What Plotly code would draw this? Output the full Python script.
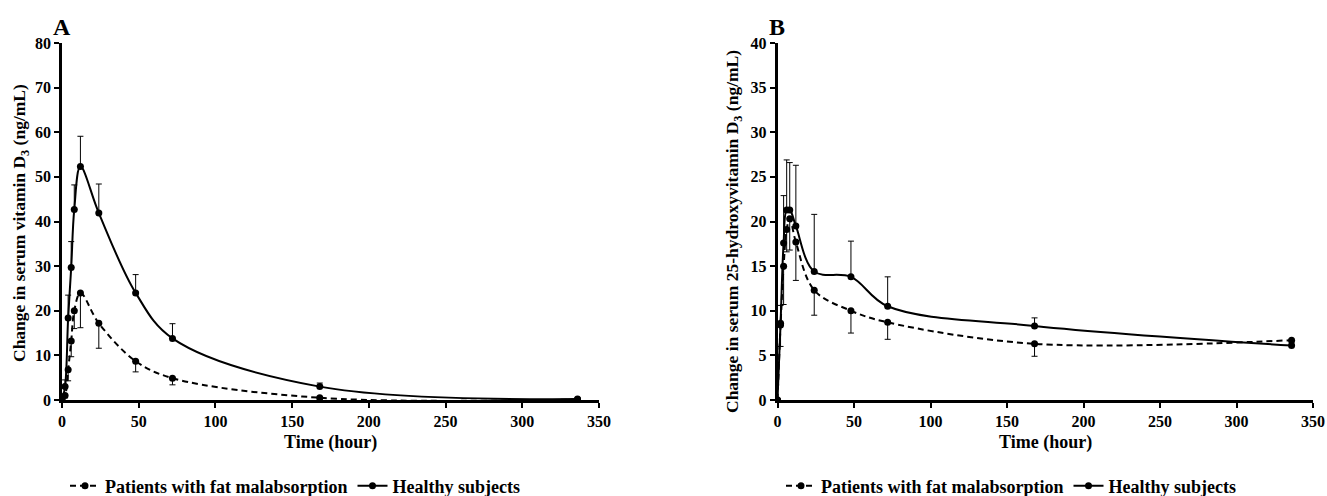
import plotly.graph_objects as go

times = [0, 2, 4, 6, 8, 12, 24, 48, 72, 168, 336]

a_patients = [0, 1.0, 6.8, 13.2, 20.0, 24.0, 17.2, 8.7, 4.9, 0.5, 0.1]
a_patients_err = [0, 0.5, 2.5, 3.5, 4.0, 7.8, 5.6, 2.4, 1.5, 0.3, 0.1]
a_healthy = [0, 3.0, 18.4, 29.7, 42.7, 52.3, 41.9, 24.0, 13.8, 3.0, 0.2]
a_healthy_err = [0, 1.5, 5.1, 5.8, 5.5, 6.8, 6.5, 4.1, 3.3, 0.8, 0.1]

b_patients = [0, 8.4, 15.0, 19.1, 20.3, 17.7, 12.3, 10.0, 8.7, 6.3, 6.7]
b_patients_err = [0, 2.4, 4.3, 2.5, 3.5, 4.3, 2.8, 2.5, 1.9, 1.4, 0.3]
b_healthy = [0, 8.6, 17.6, 21.3, 21.3, 19.5, 14.4, 13.8, 10.5, 8.3, 6.1]
b_healthy_err = [0, 2.0, 5.3, 5.6, 5.3, 6.8, 6.4, 4.0, 3.3, 0.9, 0.5]

x_ticks = [0, 50, 100, 150, 200, 250, 300, 350]
a_yticks = [0, 10, 20, 30, 40, 50, 60, 70, 80]
b_yticks = [0, 5, 10, 15, 20, 25, 30, 35, 40]

name_p = "Patients with fat malabsorption"
name_h = "Healthy subjects"

FONT = "Liberation Serif, Times New Roman, serif"
W, H = 1327, 496
ML, MR, MT, MB = 62, 14, 43, 96
PW = W - ML - MR
PH = H - MT - MB


def px_x(px):
    return (px - ML) / PW


def px_y(py):
    return (H - MB - py) / PH


fig = go.Figure()


def add_pair(xa, ya, pat, pat_err, hea, hea_err, legend):
    fig.add_trace(go.Scatter(
        x=times, y=pat, mode="lines+markers", name=name_p,
        xaxis=xa, yaxis=ya, legend=legend,
        line=dict(color="black", width=2, dash="6px,4px", shape="spline", smoothing=1),
        marker=dict(color="black", size=7),
        error_y=dict(type="data", symmetric=False, array=[0] * len(pat_err),
                     arrayminus=pat_err, color="black", thickness=1, width=3),
    ))
    fig.add_trace(go.Scatter(
        x=times, y=hea, mode="lines+markers", name=name_h,
        xaxis=xa, yaxis=ya, legend=legend,
        line=dict(color="black", width=2, shape="spline", smoothing=1),
        marker=dict(color="black", size=7),
        error_y=dict(type="data", symmetric=False, array=hea_err,
                     arrayminus=[0] * len(hea_err), color="black", thickness=1, width=3),
    ))


add_pair("x", "y", a_patients, a_patients_err, a_healthy, a_healthy_err, "legend")
add_pair("x2", "y2", b_patients, b_patients_err, b_healthy, b_healthy_err, "legend2")

tickfont = dict(family=FONT, size=16, color="black", weight="bold")
axis_common = dict(showline=True, linecolor="black", linewidth=2.5, ticks="outside",
                   ticklen=5, tickwidth=2, tickcolor="black", showgrid=False,
                   zeroline=False, tickfont=tickfont, fixedrange=True, automargin=False)

dA = [0, px_x(599)]
dB = [px_x(777.5), 1]

legend_common = dict(orientation="h", xref="paper", yref="paper", y=px_y(486),
                     yanchor="middle", bgcolor="rgba(0,0,0,0)",
                     font=dict(family=FONT, size=18, color="black", weight="bold"),
                     itemwidth=30, tracegroupgap=0)

fig.update_layout(
    width=W, height=H,
    margin=dict(l=ML, r=MR, t=MT, b=MB, autoexpand=False),
    font=dict(family=FONT, color="black"),
    paper_bgcolor="white", plot_bgcolor="white",
    showlegend=True,
    hovermode=False,
    xaxis=dict(domain=dA, range=[0, 350], tickvals=x_ticks, anchor="y", **axis_common),
    yaxis=dict(domain=[0, 1], range=[0, 80], tickvals=a_yticks, anchor="x", **axis_common),
    xaxis2=dict(domain=dB, range=[0, 350], tickvals=x_ticks, anchor="y2", **axis_common),
    yaxis2=dict(domain=[0, 1], range=[0, 40], tickvals=b_yticks, anchor="x2", **axis_common),
    legend=dict(x=px_x(65), xanchor="left", **legend_common),
    legend2=dict(x=px_x(781), xanchor="left", **legend_common),
)

title_font = dict(family=FONT, size=18, color="black", weight="bold")
ytitle_font = dict(family=FONT, size=17.5, color="black", weight="bold")
letter_font = dict(family=FONT, size=24, color="black", weight="bold")
ann_common = dict(xref="paper", yref="paper", showarrow=False,
                  xanchor="center", yanchor="middle")
annotations = [
    dict(text="A", x=px_x(61.5), y=px_y(27), font=letter_font, **ann_common),
    dict(text="B", x=px_x(777), y=px_y(27), font=letter_font, **ann_common),
    dict(text="Change in serum vitamin D<sub>3</sub> (ng/mL)", x=px_x(20),
         y=px_y(223), textangle=-90, font=ytitle_font, **ann_common),
    dict(text="Change in serum 25-hydroxyvitamin D<sub>3</sub> (ng/mL)", x=px_x(733),
         y=px_y(232), textangle=-90, font=ytitle_font, **ann_common),
    dict(text="Time (hour)", x=px_x((62.5 + 599) / 2), y=px_y(442),
         font=title_font, **ann_common),
    dict(text="Time (hour)", x=px_x((777.5 + 1313) / 2), y=px_y(442),
         font=title_font, **ann_common),
]
fig.update_layout(annotations=annotations)

fig.write_html("out.html", config={"displayModeBar": False},
               post_script="document.body.style.margin='0px';")
